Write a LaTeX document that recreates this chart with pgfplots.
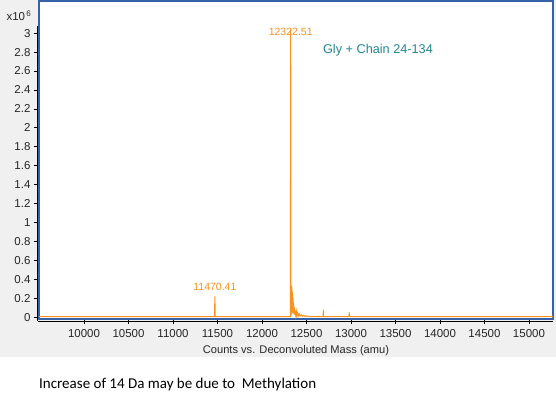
\documentclass[border=0pt]{standalone}
\usepackage{pgfplots}
\pgfplotsset{compat=1.18}
\usepackage{fontspec}
\setmainfont{Liberation Sans}
\newfontfamily\calibri{Carlito}
\definecolor{specOrange}{RGB}{247,147,30}
\definecolor{frameBlue}{RGB}{55,98,170}
\definecolor{labelTeal}{RGB}{35,135,145}
\definecolor{panelGray}{RGB}{240,240,240}

\begin{document}
\begin{tikzpicture}[x=1pt,y=1pt]
\useasboundingbox (0,0) rectangle (556,404);
\fill[panelGray] (0,47) rectangle (556,404);
\begin{axis}[
    at={(39pt,85pt)},
    anchor=south west,
    width=514pt,
    height=318pt,
    scale only axis,
    xmin=9494, xmax=15270,
    ymin=-0.02, ymax=3.34,
    axis background/.style={fill=white},
    axis line style={draw=frameBlue, line width=2pt},
    xtick={10000,10500,11000,11500,12000,12500,13000,13500,14000,14500,15000},
    ytick={0,0.2,0.4,0.6,0.8,1,1.2,1.4,1.6,1.8,2,2.2,2.4,2.6,2.8,3},
    yticklabels={0,0.2,0.4,0.6,0.8,1,1.2,1.4,1.6,1.8,2,2.2,2.4,2.6,2.8,3},
    scaled x ticks=false,
    xticklabel style={/pgf/number format/1000 sep={}, yshift=-2pt},
    /pgf/number format/assume math mode=true,
    tick label style={font=\fontsize{11.5}{13}\selectfont, text=black!85},
    tick align=outside,
    major tick length=5pt,
    tick style={black, line width=0.7pt},
    xtick pos=bottom, ytick pos=left,
    xlabel={Counts vs. Deconvoluted Mass (amu)},
    xlabel style={font=\fontsize{11.1}{13}\selectfont, text=black!85, yshift=-1pt},
    clip=true,
]
\addplot[specOrange, line width=1pt, sharp plot] coordinates {
    (9494,0.006) (11466,0.006) (11470.41,0.22) (11474,0.006)
    (12318,0.006) (12322.51,3.04) (12326,0.01) (12330,0.08)
    (12334,0.33) (12338,0.04) (12342,0.27) (12346,0.05)
    (12350,0.2) (12354,0.04) (12358,0.13) (12362,0.03)
    (12366,0.1) (12370,0.02) (12375,0.07) (12380,0.02)
    (12386,0.06) (12392,0.015) (12400,0.045) (12408,0.012)
    (12418,0.035) (12428,0.01) (12440,0.025) (12452,0.01)
    (12466,0.02) (12480,0.008) (12495,0.014) (12510,0.006)
    (12686,0.006) (12690,0.08) (12694,0.006)
    (12976,0.006) (12980,0.05) (12984,0.006)
    (15270,0.006)
};
\node[text=specOrange, font=\fontsize{10.5}{12}\selectfont] at (axis cs:12322.51,3.01) {12322.51};
\node[text=specOrange, font=\fontsize{10.5}{12}\selectfont] at (axis cs:11470.41,0.32) {11470.41};
\node[text=labelTeal, font=\fontsize{12.7}{14}\selectfont] at (axis cs:13303,2.82) {Gly + Chain 24-134};
\end{axis}
\draw[black, line width=0.8pt] (37.5,378) -- (37.5,83);
\draw[black, line width=0.8pt] (38,83) -- (553,83);
\node[anchor=west, text=black!85, font=\fontsize{11.5}{13}\selectfont] at (3,388) {x10\textsuperscript{\,6}};
\node[anchor=west, inner sep=0pt, font=\calibri\fontsize{15}{18}\selectfont] at (39,20) {Increase of 14 Da may be due to \ Methylation};
\end{tikzpicture}
\end{document}
